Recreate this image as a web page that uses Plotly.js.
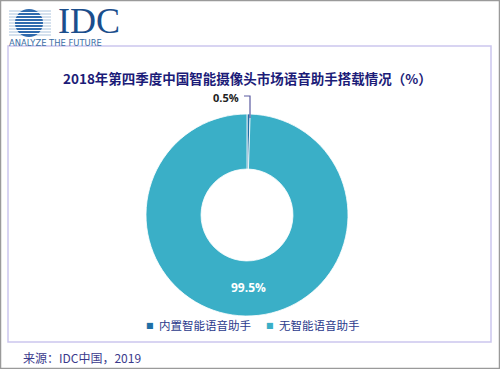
<!DOCTYPE html>
<html>
<head>
<meta charset="utf-8">
<script src="https://cdn.plot.ly/plotly-3.0.1.min.js"></script>
<style>html,body{margin:0;padding:0;background:#fff}#chart{width:500px;height:369px}</style>
</head>
<body>
<div id="chart"></div>
<script>
const categories = ["内置智能语音助手", "无智能语音助手"];
const shares = [0.5, 99.5];
const labelsText = ["0.5%", "99.5%"];
const colors = ["#1f6fa6", "#3aafc7"];
const titleText = "2018年第四季度中国智能摄像头市场语音助手搭载情况（%）";
const sourceText = "来源：IDC中国，2019";

const W = 500, H = 369;
const px = x => x / W;
const py = y => 1 - y / H;
const CJK = '"Noto Sans CJK SC", "Noto Sans", sans-serif';

const shapes = [];
// outer frame
shapes.push({type:'rect', xref:'paper', yref:'paper', x0:px(0.5), x1:px(499.5), y0:py(368.5), y1:py(0.5), line:{color:'#9a9a9a', width:1.5}});
// inner purple box
shapes.push({type:'rect', xref:'paper', yref:'paper', x0:px(8), x1:px(491), y0:py(342), y1:py(46), line:{color:'#cbc6ee', width:1.5}});
// logo stripes (background lines)
for (let y = 11; y <= 35; y += 3) {
  shapes.push({type:'line', xref:'paper', yref:'paper', x0:px(9), x1:px(51), y0:py(y), y1:py(y), line:{color:'#a9c2dc', width:1}});
}
// logo globe
shapes.push({type:'circle', xref:'paper', yref:'paper', x0:px(15), x1:px(43), y0:py(37), y1:py(9), fillcolor:'#2f6aad', line:{width:0}});
for (let y = 12.5; y <= 35; y += 3) {
  shapes.push({type:'line', xref:'paper', yref:'paper', x0:px(14), x1:px(44), y0:py(y), y1:py(y), line:{color:'#ffffff', width:1}});
}
// leader line for small slice
shapes.push({type:'path', xref:'paper', yref:'paper',
  path:`M ${px(244)} ${py(96)} L ${px(250)} ${py(96)} L ${px(250)} ${py(118)}`,
  line:{color:'#5a5aa0', width:1.2}});

const annotations = [
  {text:titleText, xref:'paper', yref:'paper', x:px(247), y:py(78), showarrow:false, xanchor:'center', yanchor:'middle',
   font:{family:CJK, size:13.5, color:'#1c1c78', weight:700}},
  {text:labelsText[0], xref:'paper', yref:'paper', x:px(241), y:py(97), showarrow:false, xanchor:'right', yanchor:'middle',
   font:{family:'"Open Sans", "Noto Sans", sans-serif', size:11, color:'#222', weight:700}},
  {text:labelsText[1], xref:'paper', yref:'paper', x:px(248), y:py(287), showarrow:false, xanchor:'center', yanchor:'middle',
   font:{family:'"Open Sans", "Noto Sans", sans-serif', size:12, color:'#ffffff', weight:700}},
  {text:sourceText, xref:'paper', yref:'paper', x:px(21), y:py(357), showarrow:false, xanchor:'left', yanchor:'middle',
   font:{family:CJK, size:12, color:'#3a3a8c'}},
  {text:'IDC', xref:'paper', yref:'paper', x:px(56), y:py(20.5), showarrow:false, xanchor:'left', yanchor:'middle',
   font:{family:'"Liberation Serif", "DejaVu Serif", serif', size:36, color:'#1b4e8c'}},
  {text:'ANALYZE THE FUTURE', xref:'paper', yref:'paper', x:px(7), y:py(42.5), showarrow:false, xanchor:'left', yanchor:'middle',
   font:{family:'"DejaVu Sans", sans-serif', size:8.4, color:'#3a6ea5'}}
];

// custom legend built from the categories and colors
const legendX = [[150, 157], [270, 277]];
categories.forEach((c, i) => {
  annotations.push({text:'■', xref:'paper', yref:'paper', x:px(legendX[i][0]), y:py(325), showarrow:false, xanchor:'center', yanchor:'middle',
    font:{family:'"DejaVu Sans", sans-serif', size:8, color:colors[i]}});
  annotations.push({text:c, xref:'paper', yref:'paper', x:px(legendX[i][1]), y:py(325), showarrow:false, xanchor:'left', yanchor:'middle',
    font:{family:CJK, size:11.5, color:'#2b3a8c'}});
});

const data = [{
  type:'pie',
  labels:categories,
  values:shares,
  hole:0.455,
  sort:false,
  direction:'clockwise',
  rotation:0,
  textinfo:'none',
  marker:{colors:colors, line:{color:'#ffffff', width:0.8}},
  domain:{x:[px(146), px(348)], y:[py(316), py(114)]},
  hoverinfo:'label+percent'
}];

const layout = {
  width:W, height:H,
  margin:{l:0, r:0, t:0, b:0},
  paper_bgcolor:'#ffffff',
  showlegend:false,
  shapes:shapes,
  annotations:annotations
};

Plotly.newPlot('chart', data, layout, {displayModeBar:false, staticPlot:true});
</script>
</body>
</html>
